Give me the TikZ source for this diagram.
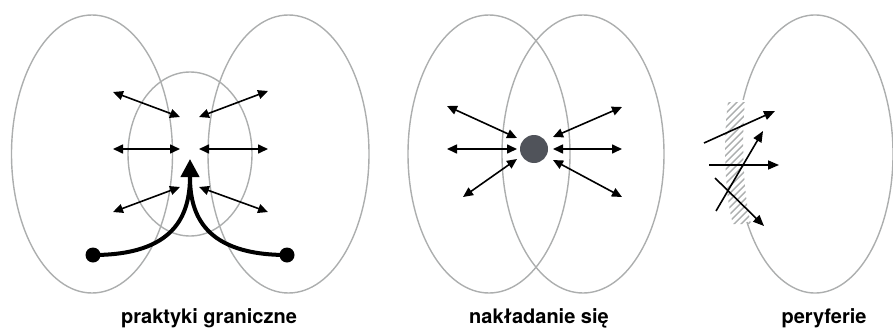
\documentclass[tikz,border=0pt]{standalone}
\usepackage{fontspec}
\setmainfont{TeX Gyre Heros}
\usetikzlibrary{arrows.meta}
\definecolor{ringgray}{RGB}{172,174,174}
\definecolor{dotgray}{RGB}{80,83,90}
\tikzset{
  ring/.style={draw=ringgray, line width=1.4pt},
  dbl/.style={line width=1.6pt, {Triangle[length=10pt,width=9pt]}-{Triangle[length=10pt,width=9pt]}},
  sgl/.style={line width=1.6pt, -{Triangle[length=11pt,width=9pt]}},
  bigarrow/.style={line width=4pt, -{Triangle[length=18pt,width=18pt]}},
  bigline/.style={line width=4pt},
  enddot/.style={circle, fill=black, inner sep=0pt, minimum size=15pt},
  hubdot/.style={circle, fill=dotgray, inner sep=0pt, minimum size=28pt},
  caption/.style={anchor=base, font=\fontsize{20}{24}\selectfont\bfseries, inner sep=0pt},
  hatch/.style={draw=ringgray, line width=1.4pt}
}
\begin{document}
\begin{tikzpicture}[x=1pt,y=-1pt]
\useasboundingbox (0,0) rectangle (893,332);
% ---------- panel 1 ----------
\draw[ring] (92,154) ellipse [x radius=80.5, y radius=139];
\draw[ring] (288.5,154) ellipse [x radius=80.5, y radius=139];
\draw[ring] (190,154) ellipse [x radius=62, y radius=82];
\coordinate (a1o) at (113,92);  \coordinate (a1i) at (180,117);
\coordinate (a2i) at (199,117); \coordinate (a2o) at (268,91);
\coordinate (a3o) at (113,149); \coordinate (a3i) at (180,149);
\coordinate (a4i) at (199,149); \coordinate (a4o) at (268,149);
\coordinate (a5o) at (113,212); \coordinate (a5i) at (180,187);
\coordinate (a6i) at (199,187); \coordinate (a6o) at (268,212);
\draw[dbl] (a1o) -- (a1i);
\draw[dbl] (a2i) -- (a2o);
\draw[dbl] (a3o) -- (a3i);
\draw[dbl] (a4i) -- (a4o);
\draw[dbl] (a5o) -- (a5i);
\draw[dbl] (a6i) -- (a6o);
\node[enddot] (dl) at (93,255) {};
\node[enddot] (dr) at (287,255) {};
\coordinate (tip) at (190,159);
\coordinate (join) at (190,177);
\draw[bigline] (dr.center) .. controls (205,255) and (190,215) .. (join);
\draw[bigarrow] (dl.center) .. controls (175,255) and (190,215) .. (tip);
\node[caption] (c1) at (209,323) {praktyki graniczne};
% ---------- panel 2 ----------
\draw[ring] (489,154) ellipse [x radius=81, y radius=139];
\draw[ring] (583,154) ellipse [x radius=81, y radius=139];
\node[hubdot] (hub) at (534,149) {};
\coordinate (b1o) at (447,106); \coordinate (b1i) at (517,138);
\coordinate (b2o) at (447,149); \coordinate (b2i) at (517,149);
\coordinate (b3o) at (463,197); \coordinate (b3i) at (517,159);
\coordinate (b4i) at (553,137); \coordinate (b4o) at (622,107);
\coordinate (b5i) at (553,149); \coordinate (b5o) at (622,149);
\coordinate (b6i) at (553,160); \coordinate (b6o) at (622,197);
\draw[dbl] (b1o) -- (b1i);
\draw[dbl] (b2o) -- (b2i);
\draw[dbl] (b3o) -- (b3i);
\draw[dbl] (b4i) -- (b4o);
\draw[dbl] (b5i) -- (b5o);
\draw[dbl] (b6i) -- (b6o);
\node[caption] (c2) at (539,323) {nakładanie się};
% ---------- panel 3 ----------
\draw[ring] (815,154) ++(202.9:78 and 139) arc [start angle=202.9, end angle=510.7, x radius=78, y radius=139];
\begin{scope}
  \clip (728,102) .. controls (724,130) and (723,190) .. (733,224) -- (751,224) .. controls (742,190) and (742,130) .. (745,102) -- cycle;
  \foreach \k in {0,...,23} {
    \draw[hatch] (700,{118+7*\k}) -- ++(60,-60);
  }
\end{scope}
\coordinate (c1s) at (704,143); \coordinate (c1e) at (775,111);
\coordinate (c2s) at (716,211); \coordinate (c2e) at (763,131);
\coordinate (c3s) at (709,165); \coordinate (c3e) at (779,165);
\coordinate (c4s) at (715,178); \coordinate (c4e) at (764,226);
\draw[sgl] (c1s) -- (c1e);
\draw[sgl] (c2s) -- (c2e);
\draw[sgl] (c3s) -- (c3e);
\draw[sgl] (c4s) -- (c4e);
\node[caption] (c3) at (824,323) {peryferie};
\end{tikzpicture}
\end{document}
